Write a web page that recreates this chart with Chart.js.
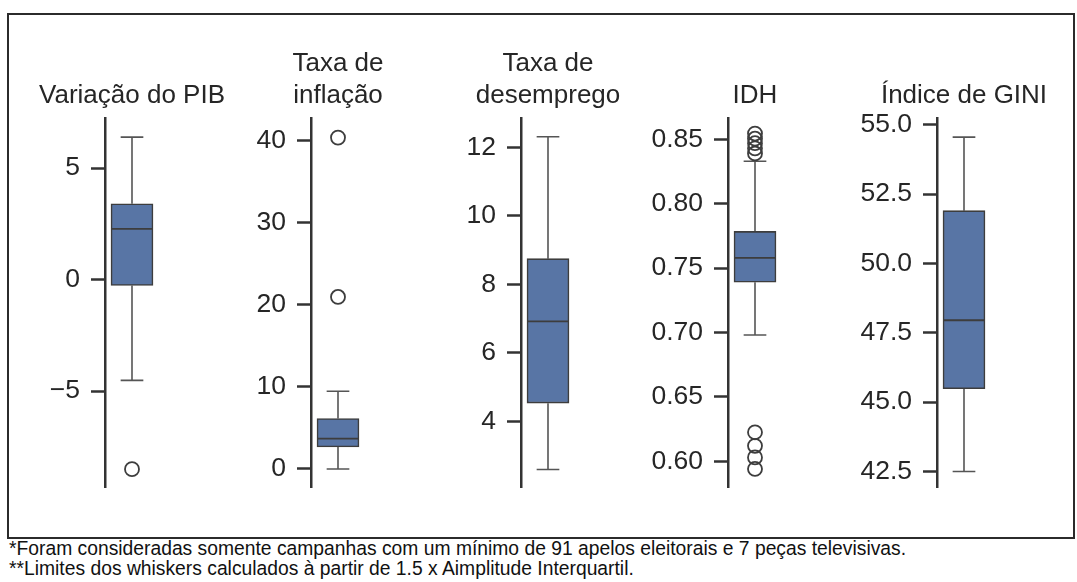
<!DOCTYPE html>
<html>
<head>
<meta charset="utf-8">
<script src="https://cdn.jsdelivr.net/npm/chart.js@4.4.1/dist/chart.umd.min.js"></script>
<style>
  body { margin: 0; background: #fff; font-family: "Liberation Sans", Arial, sans-serif; }
  #wrap { position: relative; width: 1077px; height: 582px; overflow: hidden; }
  #frame { position: absolute; left: 7px; top: 13px; width: 1068px; height: 526px; border: 2px solid #2b2b2b; box-sizing: border-box; }
  .panel { position: absolute; top: 0; }
  #notes { position: absolute; left: 9px; top: 539px; font-size: 19.3px; line-height: 20px; color: #111; white-space: nowrap; }
</style>
</head>
<body>
<div id="wrap">
  <div id="frame"></div>
  <div id="notes">
    *Foram consideradas somente campanhas com um mínimo de 91 apelos eleitorais e 7 peças televisivas.<br>
    **Limites dos whiskers calculados à partir de 1.5 x Aimplitude Interquartil.
  </div>
</div>
<script>
// Panel titles
const panelTitles = [
    ["Variação do PIB"],
    ["Taxa de", "inflação"],
    ["Taxa de", "desemprego"],
    ["IDH"],
    ["Índice de GINI"]
];

// Box statistics
const whiskerLow  = [-4.52, -0.05, 2.59, 0.698, 42.5];
const q1Values    = [-0.26, 2.64, 4.53, 0.739, 45.48];
const medianVals  = [2.28, 3.66, 6.92, 0.758, 47.95];
const q3Values    = [3.40, 6.10, 8.75, 0.7785, 51.9];
const whiskerHigh = [6.39, 9.44, 12.31, 0.833, 54.55];
const outliers = [
    [-8.5],
    [20.95, 40.4],
    [],
    [0.594, 0.603, 0.612, 0.6225, 0.839, 0.843, 0.847, 0.8505, 0.8545],
    []
];

// Axis ranges and ticks
const axisMin = [-9.3, -2.25, 2.08, 0.58, 41.94];
const axisMax = [7.25, 42.8, 12.86, 0.8666, 55.24];
const tickValues = [
    [-5, 0, 5],
    [0, 10, 20, 30, 40],
    [4, 6, 8, 10, 12],
    [0.60, 0.65, 0.70, 0.75, 0.80, 0.85],
    [42.5, 45.0, 47.5, 50.0, 52.5, 55.0]
];
const tickLabels = [
    ["\u22125", "0", "5"],
    ["0", "10", "20", "30", "40"],
    ["4", "6", "8", "10", "12"],
    ["0.60", "0.65", "0.70", "0.75", "0.80", "0.85"],
    ["42.5", "45.0", "47.5", "50.0", "52.5", "55.0"]
];

// layout: x pixel of each y axis line
const axisX = [105, 311, 521, 728, 937];
const labelW = 100;     // room for tick labels left of the axis
const boxOffset = 27;   // box centre, px right of the axis
const boxPx = 42;       // box width in px
const fontFamily = "'Liberation Sans', Arial, sans-serif";
const textColor = "#262626";
const edgeColor = "#3d3d3d";

const wrap = document.getElementById("wrap");

panelTitles.forEach((title, i) => {
    const div = document.createElement("div");
    div.className = "panel";
    div.style.left = (axisX[i] - labelW) + "px";
    const canvas = document.createElement("canvas");
    // canvas symmetric around the box centre so the title sits above the box
    canvas.width = 2 * (labelW + boxOffset);
    canvas.height = 490;
    div.appendChild(canvas);
    wrap.appendChild(div);

    // plot area runs from the axis to the canvas right edge; 1 x unit = box width
    const xMin = -boxOffset / boxPx;
    const xMax = (labelW + boxOffset) / boxPx;

    // whiskers as one broken line (null breaks it)
    const whiskers = [
        { x: 0, y: q3Values[i] }, { x: 0, y: whiskerHigh[i] }, { x: 0, y: null },
        { x: -0.27, y: whiskerHigh[i] }, { x: 0.27, y: whiskerHigh[i] }, { x: 0, y: null },
        { x: 0, y: q1Values[i] }, { x: 0, y: whiskerLow[i] }, { x: 0, y: null },
        { x: -0.27, y: whiskerLow[i] }, { x: 0.27, y: whiskerLow[i] }
    ];

    new Chart(canvas.getContext("2d"), {
        type: "bar",
        data: {
            datasets: [
                {
                    type: "bar",
                    data: [{ x: 0, y: [q1Values[i], q3Values[i]] }],
                    backgroundColor: "#5875a5",
                    borderColor: edgeColor,
                    borderWidth: 1.6,
                    borderSkipped: false,
                    barThickness: boxPx,
                    order: 2
                },
                {
                    type: "line",
                    data: whiskers,
                    borderColor: "#555555",
                    borderWidth: 1.6,
                    pointRadius: 0,
                    spanGaps: false,
                    order: 3
                },
                {
                    type: "line",
                    data: [{ x: -0.5, y: medianVals[i] }, { x: 0.5, y: medianVals[i] }],
                    borderColor: edgeColor,
                    borderWidth: 1.8,
                    pointRadius: 0,
                    order: 1
                },
                {
                    type: "scatter",
                    data: outliers[i].map(v => ({ x: 0, y: v })),
                    pointRadius: 7,
                    pointBackgroundColor: "rgba(0,0,0,0)",
                    pointBorderColor: edgeColor,
                    pointBorderWidth: 1.8,
                    clip: false,
                    order: 0
                }
            ]
        },
        options: {
            responsive: false,
            animation: false,
            events: [],
            layout: { autoPadding: false, padding: { left: 0, right: 0, top: 0, bottom: 3 } },
            plugins: {
                legend: { display: false },
                tooltip: { enabled: false },
                title: {
                    display: true,
                    text: title,
                    color: textColor,
                    font: { family: fontFamily, size: 26, weight: "normal", lineHeight: 1.23 },
                    padding: { top: title.length === 2 ? 48 : 80, bottom: 6 }
                }
            },
            scales: {
                x: { type: "linear", min: xMin, max: xMax, offset: false, display: false },
                y: {
                    min: axisMin[i],
                    max: axisMax[i],
                    border: { display: true, color: "#333333", width: 2.5 },
                    grid: { drawOnChartArea: false, drawTicks: true, tickLength: 14, tickWidth: 2.5, tickColor: "#333333" },
                    ticks: {
                        color: textColor,
                        padding: 11,
                        font: { family: fontFamily, size: 26.5 },
                        callback: (value, idx) => tickLabels[i][idx]
                    },
                    afterBuildTicks: axis => {
                        axis.ticks = tickValues[i].map(v => ({ value: v }));
                    },
                    afterFit: axis => {
                        axis.width = labelW;
                        // no extra room for end labels, the axis spans the full height
                        axis.paddingTop = 0;
                        axis.paddingBottom = 0;
                    }
                }
            }
        }
    });
});
</script>
</body>
</html>
